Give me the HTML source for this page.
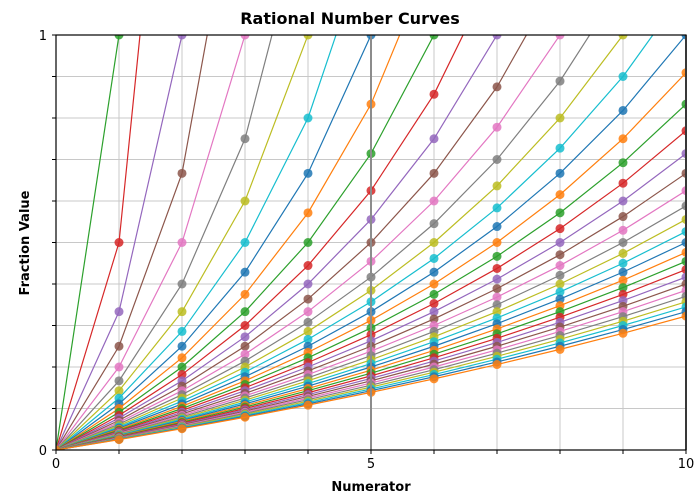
<!DOCTYPE html>
<html><head><meta charset="utf-8"><style>
body{margin:0;background:#fff;}
svg{display:block;font-family:"DejaVu Sans","Liberation Sans",sans-serif;}
</style></head><body>
<svg id="s" width="700" height="500" xmlns="http://www.w3.org/2000/svg">
<defs><clipPath id="c"><rect x="56" y="35" width="630" height="415"/></clipPath></defs>
<rect width="700" height="500" fill="#fff"/>
<g id="grid"></g>
<g id="data" clip-path="url(#c)"></g>
<line x1="371" y1="35" x2="371" y2="450" stroke="#8c8c8c" stroke-width="2"/>
<line x1="686" y1="35" x2="686" y2="450" stroke="#8c8c8c" stroke-width="2"/>
<rect x="56" y="35" width="630" height="415" fill="none" stroke="#000" stroke-width="1.2"/>
<g id="ticks"></g>
<text x="350" y="24" text-anchor="middle" font-size="16" font-weight="bold">Rational Number Curves</text>
<text x="371" y="491" text-anchor="middle" font-size="13" font-weight="bold">Numerator</text>
<text x="29" y="243" text-anchor="middle" font-size="13" font-weight="bold" transform="rotate(-90 29 243)">Fraction Value</text>
<text x="56" y="468" text-anchor="middle" font-size="13">0</text>
<text x="371" y="468" text-anchor="middle" font-size="13">5</text>
<text x="686" y="468" text-anchor="middle" font-size="13">10</text>
<text x="47" y="455" text-anchor="end" font-size="13">0</text>
<text x="47" y="40" text-anchor="end" font-size="13">1</text>
</svg>
<script>
var C=["#1f77b4","#ff7f0e","#2ca02c","#d62728","#9467bd","#8c564b","#e377c2","#7f7f7f","#bcbd22","#17becf"];
function X(v){return 56+v*63;}function Y(v){return 450-v*415;}
var g="",t="",d="";
for(var i=0;i<=10;i++){g+='<line x1="'+X(i)+'" y1="35" x2="'+X(i)+'" y2="450" stroke="#c8c8c8" stroke-width="1"/>';
t+='<line x1="'+X(i)+'" y1="450" x2="'+X(i)+'" y2="454" stroke="#000"/>';}
for(var j=0;j<=10;j++){var y=Y(j/10);g+='<line x1="56" y1="'+y+'" x2="686" y2="'+y+'" stroke="#c8c8c8" stroke-width="1"/>';
t+='<line x1="52" y1="'+y+'" x2="56" y2="'+y+'" stroke="#000"/>';}
for(var k=2;k<=41;k++){var col=C[k%10];var pts=[];var m="";
for(var n=0;n<=10&&n<k;n++){var v=n/(k-n);var yy=Math.max(Y(v),-2000);pts.push(X(n)+","+yy.toFixed(2));
m+='<circle cx="'+X(n)+'" cy="'+yy.toFixed(2)+'" r="4.5" fill="'+col+'" fill-opacity="0.85"/>';}
d+='<polyline points="'+pts.join(" ")+'" fill="none" stroke="'+col+'" stroke-width="1.2"/>'+m;}
document.getElementById("grid").innerHTML=g;document.getElementById("ticks").innerHTML=t;document.getElementById("data").innerHTML=d;
</script>
</body></html>
